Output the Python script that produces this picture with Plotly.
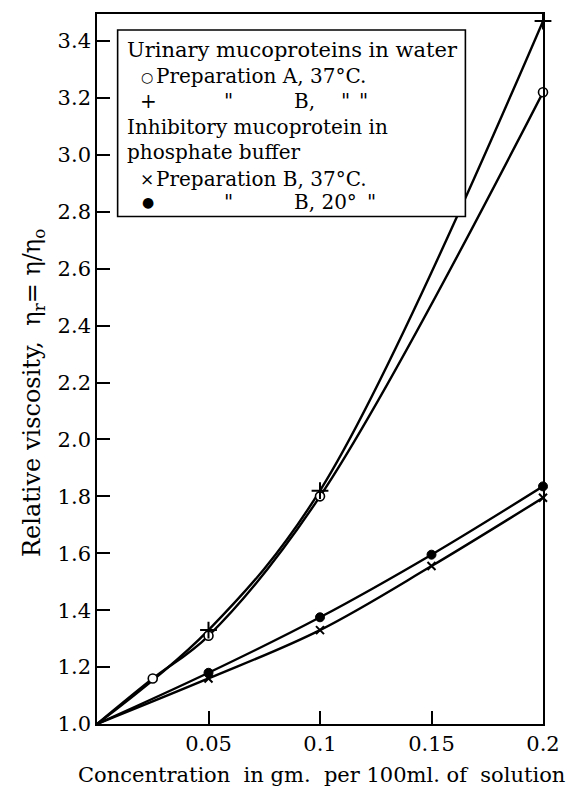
import plotly.graph_objects as go

# ---- data ----
conc_a = [0.025, 0.05, 0.1, 0.2]
visc_a = [1.16, 1.31, 1.80, 3.22]          # Preparation A, 37°C, water (open circle)
conc_b = [0.05, 0.1, 0.2]
visc_b = [1.33, 1.82, 3.47]                # Preparation B, 37°C, water (plus)
conc_c = [0.05, 0.1, 0.15, 0.2]
visc_c = [1.16, 1.33, 1.555, 1.795]        # Preparation B, 37°C, phosphate (x)
conc_d = [0.05, 0.1, 0.15, 0.2]
visc_d = [1.18, 1.375, 1.595, 1.835]       # Preparation B, 20°C, phosphate (dot)
origin_x = 0.0
origin_y = 1.0

x_tickvals = [0.05, 0.1, 0.15, 0.2]
x_ticktext = ["0.05", "0.1", "0.15", "0.2"]
y_tickvals = [1.0, 1.2, 1.4, 1.6, 1.8, 2.0, 2.2, 2.4, 2.6, 2.8, 3.0, 3.2, 3.4]

FONT = "DejaVu Serif"
L, R, T, B = 97, 21, 12, 65
W, H = 572, 789
PW, PH = W - L - R, H - T - B

def px(xp):
    return (xp - L) / PW

def py(yp):
    return (H - B - yp) / PH

fig = go.Figure()

line_style = dict(color="black", width=2.4, shape="spline", smoothing=1.0)
for xs, ys in [(conc_a, visc_a), (conc_b, visc_b), (conc_c, visc_c), (conc_d, visc_d)]:
    fig.add_trace(go.Scatter(x=[origin_x] + xs, y=[origin_y] + ys, mode="lines",
                             line=line_style, showlegend=False, hoverinfo="skip"))

fig.add_trace(go.Scatter(x=conc_a, y=visc_a, mode="markers", showlegend=False,
                         marker=dict(symbol="circle", size=9, color="white",
                                     line=dict(color="black", width=1.6)), cliponaxis=False))
fig.add_trace(go.Scatter(x=conc_b, y=visc_b, mode="markers", showlegend=False,
                         marker=dict(symbol="cross-thin", size=12, color="black",
                                     line=dict(color="black", width=2)), cliponaxis=False))
fig.add_trace(go.Scatter(x=conc_c, y=visc_c, mode="markers", showlegend=False,
                         marker=dict(symbol="x-thin", size=8, color="black",
                                     line=dict(color="black", width=2)), cliponaxis=False))
fig.add_trace(go.Scatter(x=conc_d, y=visc_d, mode="markers", showlegend=False,
                         marker=dict(symbol="circle", size=9, color="black",
                                     line=dict(color="black", width=1)), cliponaxis=False))

axis_common = dict(showline=True, linecolor="black", linewidth=1.6, mirror=True,
                   ticks="inside", ticklen=13, tickwidth=1.6, tickcolor="black",
                   showgrid=False, zeroline=False,
                   tickfont=dict(family=FONT, size=21, color="black"))

fig.update_xaxes(range=[0, 0.2], tickvals=x_tickvals, ticktext=x_ticktext, **axis_common)
fig.update_yaxes(range=[1.0, 3.495], tickvals=y_tickvals, tickformat=".1f", **axis_common)

ann = []
# axis titles
ann.append(dict(text="Concentration  in gm.  per 100ml. of  solution", x=px(326), y=py(775),
                xref="paper", yref="paper", showarrow=False, xanchor="center", yanchor="middle",
                font=dict(family=FONT, size=21, color="black")))
ann.append(dict(text="Relative viscosity,  η<sub>r</sub>= η/η<sub>o</sub>", x=px(33), y=py(392),
                xref="paper", yref="paper", showarrow=False, textangle=-90,
                xanchor="center", yanchor="middle",
                font=dict(family=FONT, size=24, color="black")))

# legend box text (each piece positioned)
leg_font = dict(family=FONT, size=20, color="black")
big_font = dict(family=FONT, size=21, color="black")
sym_font = dict(family=FONT, size=14, color="black")
x_font = dict(family=FONT, size=17, color="black")
pieces = [
    ("Urinary mucoproteins in water", 125, 48, big_font),
    ("○", 140, 75, sym_font), ("Preparation A, 37°C.", 155, 74, leg_font),
    ("+", 139, 99, leg_font), ("\"", 224, 99, leg_font), ("B,", 295, 99, leg_font),
    ("\"", 343, 99, leg_font), ("\"", 362, 99, leg_font),
    ("Inhibitory mucoprotein in", 125, 125, leg_font),
    ("phosphate buffer", 125, 150, leg_font),
    ("×", 139, 177, x_font), ("Preparation B, 37°C.", 155, 177, leg_font),
    ("●", 141, 201, sym_font), ("\"", 224, 201, leg_font), ("B, 20°", 296, 201, leg_font),
    ("\"", 370, 201, leg_font),
]
for txt, xp, yp, f in pieces:
    ann.append(dict(text=txt, x=px(xp), y=py(yp), xref="paper", yref="paper", showarrow=False,
                    xanchor="left", yanchor="middle", font=f))

fig.update_layout(
    width=W, height=H,
    margin=dict(l=L, r=R, t=T, b=B),
    plot_bgcolor="white", paper_bgcolor="white",
    annotations=ann,
    shapes=[dict(type="rect", xref="paper", yref="paper",
                 x0=px(118), x1=px(472), y0=py(215), y1=py(28),
                 line=dict(color="black", width=1.6), fillcolor="white", layer="above")],
)
fig.write_html("out.html")
